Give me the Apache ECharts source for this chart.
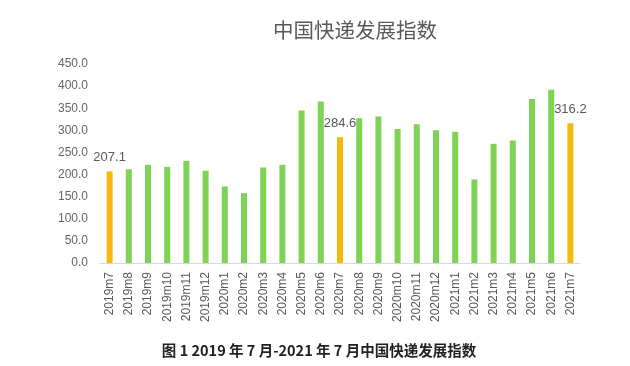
<!DOCTYPE html>
<html>
<head>
<meta charset="utf-8">
<script src="https://cdn.jsdelivr.net/npm/echarts@6/dist/echarts.min.js"></script>
<style>
html,body{margin:0;padding:0;background:#fff;}
#c{width:630px;height:366px;}
</style>
</head>
<body>
<div id="c"></div>
<script>
var categories = ["2019m7","2019m8","2019m9","2019m10","2019m11","2019m12","2020m1","2020m2","2020m3","2020m4","2020m5","2020m6","2020m7","2020m8","2020m9","2020m10","2020m11","2020m12","2021m1","2021m2","2021m3","2021m4","2021m5","2021m6","2021m7"];
var values = [207.1,212,222,217.5,231,208.5,173,158,216,222,344.7,365,284.6,327.5,331,303,314,300,296.6,189,269.5,277,371,391.5,316.2];
var highlighted = ["2019m7","2020m7","2021m7"];
var yTicks = [0,50,100,150,200,250,300,350,400,450];
var titleText = "中国快递发展指数";
var captionText = "图 1 2019 年 7 月-2021 年 7 月中国快递发展指数";

var GREEN = "#7ed256", ORANGE = "#f5b80f";
var data = values.map(function(v, i){
  var hi = highlighted.indexOf(categories[i]) >= 0;
  return {
    value: v,
    itemStyle: {color: hi ? ORANGE : GREEN},
    label: {show: hi}
  };
});

var chart = echarts.init(document.getElementById('c'), null, {renderer:'canvas'});
chart.setOption({
  animation: false,
  backgroundColor: '#fff',
  title: [{
    text: titleText, left: 350, textAlign: 'center', top: 15,
    textStyle: {fontSize: 20.5, fontWeight: 'normal', color: '#595959', fontFamily: 'Noto Sans CJK SC'}
  },{
    text: captionText, left: 314, textAlign: 'center', top: 338,
    textStyle: {fontSize: 14.5, fontWeight: 'bold', color: '#222', fontFamily: 'Noto Sans CJK SC'}
  }],
  grid: {left: 100, right: 50, top: 64, height: 199},
  xAxis: {
    type: 'category', data: categories,
    axisLine: {lineStyle: {color: '#d9d9d9'}},
    axisTick: {show: false},
    axisLabel: {rotate: 90, color: '#595959', fontSize: 12, margin: 9, fontFamily: 'Liberation Sans', interval: 0}
  },
  yAxis: {
    type: 'value', min: yTicks[0], max: yTicks[yTicks.length-1], interval: 50,
    splitLine: {show: false},
    axisLine: {show: false}, axisTick: {show: false},
    axisLabel: {color: '#666', fontSize: 12, margin: 12, fontFamily: 'Liberation Sans',
      formatter: function(v){ return v.toFixed(1); }}
  },
  series: [{
    type: 'bar', data: data, barWidth: 6,
    label: {position: 'top', distance: 7, color: '#595959', fontSize: 13, fontFamily: 'Liberation Sans',
      formatter: function(p){ return p.value.toFixed(1); }}
  }]
});
</script>
</body>
</html>
